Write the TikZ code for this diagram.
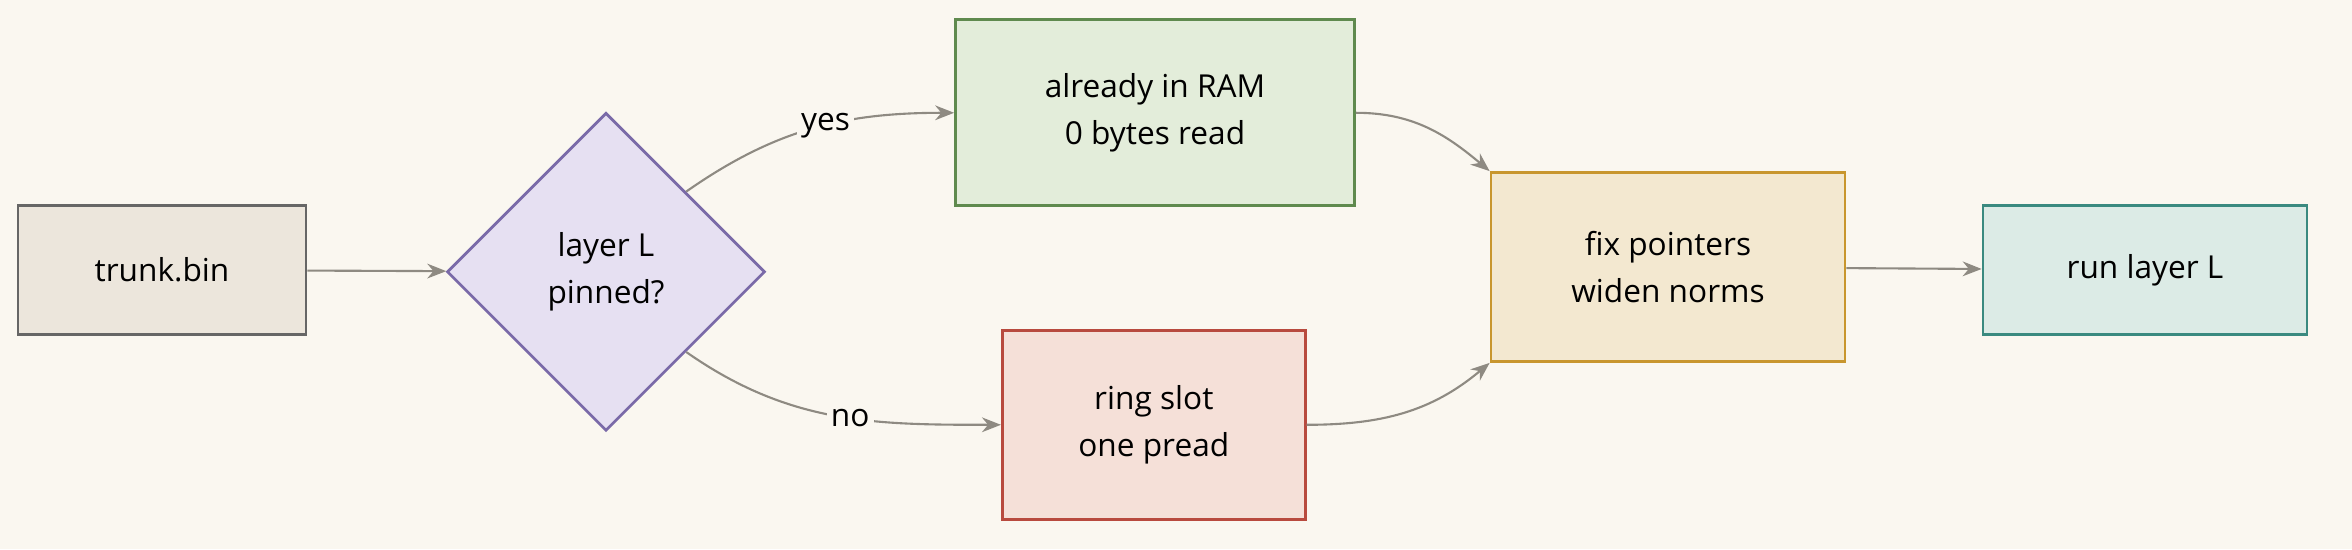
\documentclass[tikz,border=0pt]{standalone}
\usepackage{fontspec}
\setmainfont{Open Sans}
\usetikzlibrary{shapes.geometric,arrows.meta}
\definecolor{bg}{HTML}{FAF7F0}
\definecolor{arrowc}{HTML}{8E8A82}
\tikzset{
    box/.style={draw, line width=1.3pt, rectangle, align=center, font=\fontsize{15}{22}\selectfont},
    link/.style={draw=arrowc, line width=1pt, -{Stealth[length=9pt,width=7pt]}},
}
\begin{document}
\begin{tikzpicture}
        \fill[bg] (0,0) rectangle (39.2,9.15);
        \useasboundingbox (0,0) rectangle (39.2,9.15);
        \node[box, draw=gray!80!black, fill={rgb,255:red,236;green,230;blue,220}, minimum width=4.8cm, minimum height=2.15cm] (trunk) at (2.7,4.65) {trunk.bin};
        \node[box, diamond, draw={rgb,255:red,122;green,106;blue,168}, fill={rgb,255:red,230;green,224;blue,242}, minimum width=5.3cm, minimum height=5.3cm, inner sep=0pt] (pinned) at (10.1,4.62) {layer L\\pinned?};
        \node[box, draw={rgb,255:red,95;green,138;blue,78}, fill={rgb,255:red,227;green,237;blue,218}, minimum width=6.65cm, minimum height=3.1cm] (ram) at (19.25,7.27) {already in RAM\\0 bytes read};
        \node[box, draw={rgb,255:red,184;green,74;blue,62}, fill={rgb,255:red,245;green,224;blue,216}, minimum width=5.05cm, minimum height=3.15cm] (ring) at (19.23,2.07) {ring slot\\one pread};
        \node[box, draw={rgb,255:red,200;green,150;blue,46}, fill={rgb,255:red,243;green,232;blue,208}, minimum width=5.9cm, minimum height=3.15cm] (fix) at (27.8,4.7) {fix pointers\\widen norms};
        \node[box, draw={rgb,255:red,58;green,138;blue,128}, fill={rgb,255:red,220;green,235;blue,230}, minimum width=5.4cm, minimum height=2.15cm] (run) at (35.75,4.65) {run layer L};
        \draw[link] (trunk) -- (pinned);
        \draw[link] (pinned.north east) to[out=35,in=180] node[pos=0.55, fill=bg, inner sep=2pt, font=\fontsize{15}{18}\selectfont] {yes} (ram.west);
        \draw[link] (pinned.south east) to[out=-35,in=180] node[pos=0.55, fill=bg, inner sep=2pt, font=\fontsize{15}{18}\selectfont] {no} (ring.west);
        \draw[link] (ram.east) to[out=0,in=140] (fix.north west);
        \draw[link] (ring.east) to[out=0,in=-140] (fix.south west);
        \draw[link] (fix) -- (run);
    \end{tikzpicture}
\end{document}
